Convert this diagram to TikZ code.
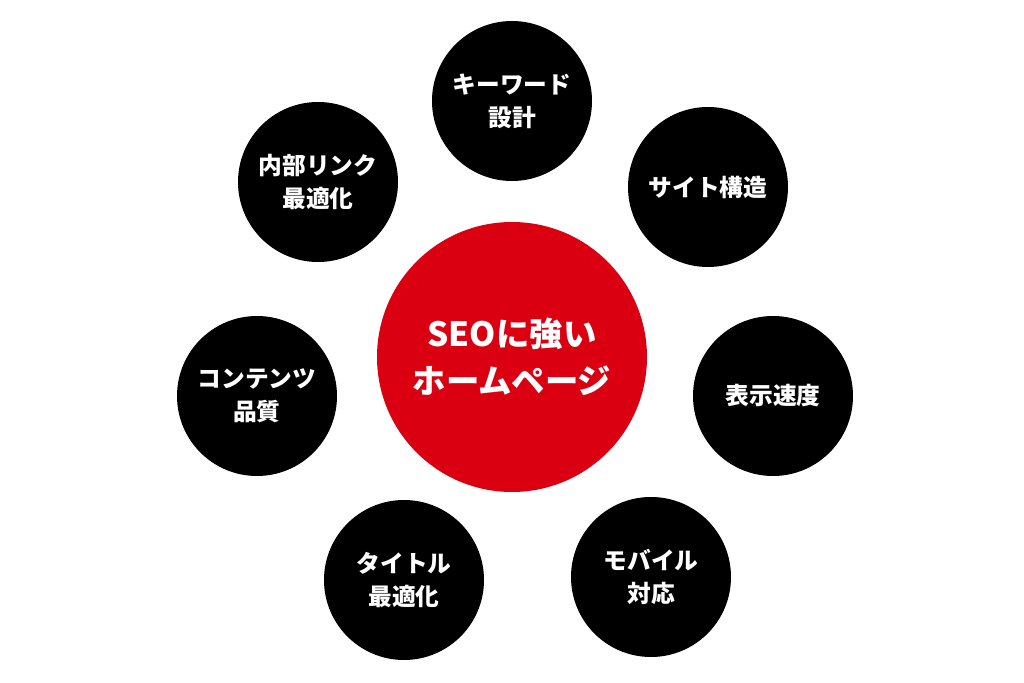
\documentclass[tikz,border=0pt]{standalone}
\usepackage{fontspec}
\setmainfont{Noto Sans CJK JP}
\usepackage{tikz}
\usetikzlibrary{positioning, shapes}
\definecolor{rojo}{RGB}{218, 0, 18}
\tikzset{
    hub/.style={circle, fill=rojo, text=white, minimum size=5.4cm, inner sep=0pt, align=center, font=\fontsize{19}{26.5}\selectfont\bfseries},
    leaf/.style={circle, fill=black, text=white, minimum size=3.2cm, inner sep=0pt, align=center, font=\fontsize{13.5}{18.7}\selectfont\bfseries},
}
\begin{document}
\begin{tikzpicture}
        \useasboundingbox (0,0) rectangle (20.48,13.64);
        \node [hub] (seo) at (10.24,6.50) {SEOに強い\\ホームページ};

        \node [leaf] (kw) at (10.24,11.62) {キーワード\\設計};
        \node [leaf] (site) at (14.16,9.90) {サイト構造};
        \node [leaf] (speed) at (15.46,5.72) {表示速度};
        \node [leaf] (mobile) at (13.02,2.10) {モバイル\\対応};
        \node [leaf] (title) at (8.08,2.04) {タイトル\\最適化};
        \node [leaf] (content) at (5.14,5.72) {コンテンツ\\品質};
        \node [leaf] (link) at (6.36,10.00) {内部リンク\\最適化};
\end{tikzpicture}
\end{document}
